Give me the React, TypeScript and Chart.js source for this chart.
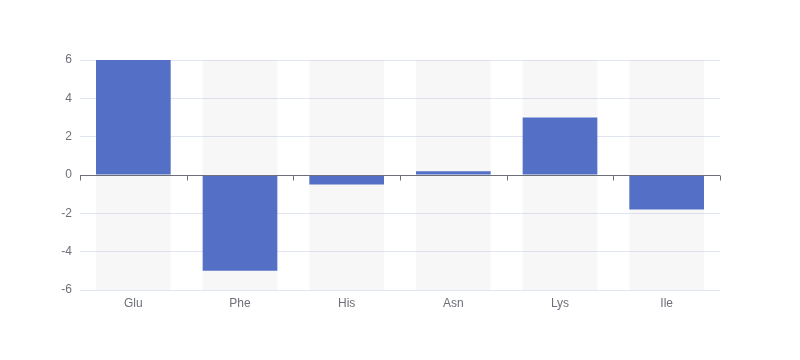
import React, { useEffect, useRef } from "react";
import { Chart, registerables } from "chart.js";

Chart.register(...registerables);

const categories = ["Glu", "Phe", "His", "Asn", "Lys", "Ile"];
const values = [6, -5, -0.5, 0.2, 3, -1.8];
const yMin = -6;
const yMax = 6;
const yStep = 2;

const zeroAxisPlugin = {
  id: "zeroAxis",
  afterDatasetsDraw(chart: any) {
    const { ctx, chartArea, scales } = chart;
    const x = scales.x;
    const y = scales.y;
    const y0 = Math.round(y.getPixelForValue(0)) + 0.5;
    ctx.save();
    ctx.strokeStyle = "#6e7079";
    ctx.lineWidth = 1;
    ctx.beginPath();
    ctx.moveTo(chartArea.left, y0);
    ctx.lineTo(chartArea.right, y0);
    const n = categories.length;
    const half = (x.getPixelForValue(1) - x.getPixelForValue(0)) / 2;
    for (let i = 0; i <= n; i++) {
      const px = Math.round(i < n ? x.getPixelForValue(i) - half : x.getPixelForValue(n - 1) + half) + 0.5;
      ctx.moveTo(px, y0);
      ctx.lineTo(px, y0 + 5);
    }
    ctx.stroke();
    ctx.restore();
  },
};

export default function App() {
  const ref = useRef<HTMLCanvasElement>(null);
  useEffect(() => {
    if (!ref.current) return;
    const font = { family: "sans-serif", size: 12 };
    const chart = new Chart(ref.current, {
      type: "bar",
      data: {
        labels: categories,
        datasets: [
          {
            data: values,
            backgroundColor: "#5470c6",
            order: 1,
            grouped: false,
            categoryPercentage: 0.7,
            barPercentage: 1,
          } as any,
          {
            data: categories.map(() => [yMin, yMax]),
            backgroundColor: "rgba(180,180,180,0.11)",
            order: 2,
            grouped: false,
            categoryPercentage: 0.7,
            barPercentage: 1,
          } as any,
        ],
      },
      options: {
        animation: false,
        responsive: true,
        maintainAspectRatio: false,
        layout: { padding: { left: 0, right: 80, top: 60, bottom: 0 } },
        plugins: { legend: { display: false }, tooltip: { enabled: false } },
        scales: {
          x: {
            grid: { display: false, drawTicks: false },
            border: { display: false },
            ticks: { color: "#6e7079", font, padding: 6 },
            afterFit: (s: any) => {
              s.height = 70;
            },
          },
          y: {
            min: yMin,
            max: yMax,
            grid: { color: "#e0e6f1", drawTicks: false },
            border: { display: false },
            ticks: { stepSize: yStep, color: "#6e7079", font, padding: 8 },
            afterFit: (s: any) => {
              s.width = 80;
            },
          },
        },
      },
      plugins: [zeroAxisPlugin],
    });
    return () => chart.destroy();
  }, []);
  return (
    <div style={{ position: "fixed", left: 0, top: 0, width: 800, height: 360 }}>
      <canvas ref={ref} />
    </div>
  );
}
